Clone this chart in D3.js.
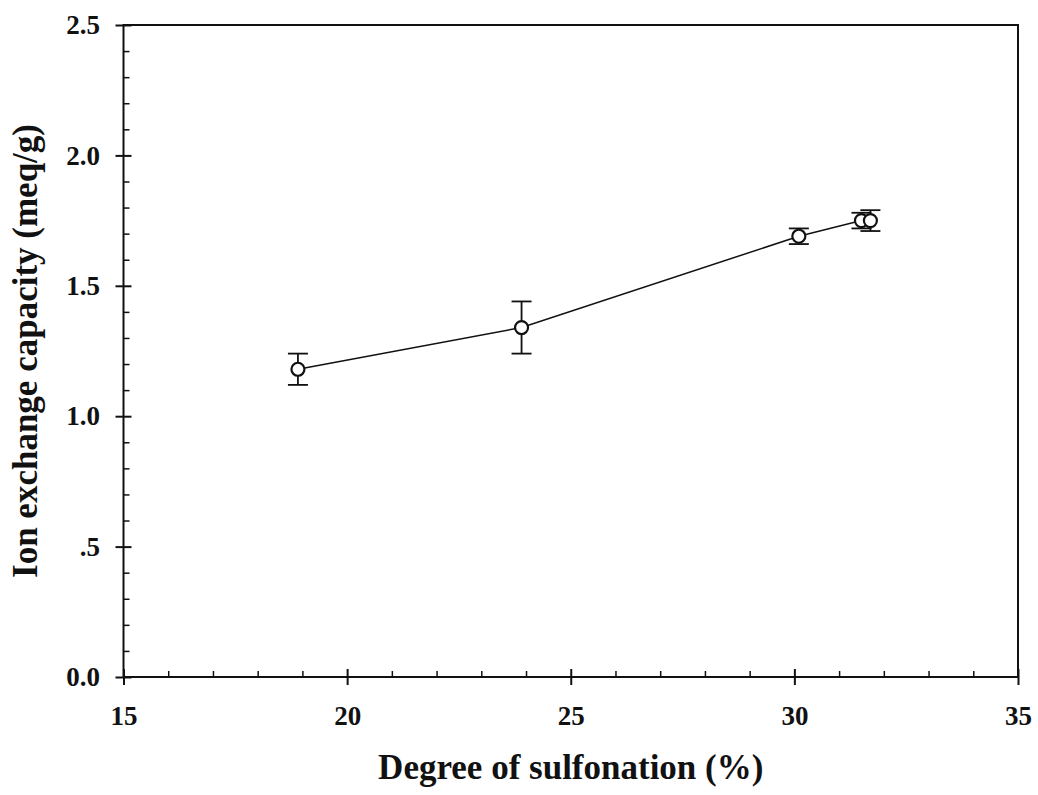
<!DOCTYPE html>
<html>
<head>
<meta charset="utf-8">
<script src="https://cdn.jsdelivr.net/npm/d3@7"></script>
<style>
  html, body { margin: 0; padding: 0; background: #fff; }
  svg { display: block; }
  text { font-family: "Liberation Serif", "Times New Roman", serif; font-weight: bold; fill: #111; }
</style>
</head>
<body>
<svg id="chart" width="1038" height="795"></svg>
<script>
// Degree of sulfonation (%) and measured ion exchange capacity (meq/g)
const sulfonation = [18.9, 23.9, 30.1, 31.5, 31.7];
const iec         = [1.18, 1.34, 1.69, 1.75, 1.75];
const iecError    = [0.06, 0.10, 0.03, 0.03, 0.04];

const xTicks = [15, 20, 25, 30, 35];
const xTickLabels = ["15", "20", "25", "30", "35"];
const yTicks = [0, 0.5, 1.0, 1.5, 2.0, 2.5];
const yTickLabels = ["0.0", ".5", "1.0", "1.5", "2.0", "2.5"];

const xTitle = "Degree of sulfonation (%)";
const yTitle = "Ion exchange capacity (meq/g)";

const margin = { left: 123.5, right: 1018, top: 25, bottom: 677 };

const svg = d3.select("#chart");

const x = d3.scaleLinear().domain([15, 35]).range([margin.left, margin.right]);
const y = d3.scaleLinear().domain([0, 2.5]).range([margin.bottom, margin.top]);

const ink = "#111";

// frame
svg.append("rect")
  .attr("x", margin.left).attr("y", margin.top)
  .attr("width", margin.right - margin.left)
  .attr("height", margin.bottom - margin.top)
  .attr("fill", "none").attr("stroke", ink).attr("stroke-width", 2);

// minor ticks (inside)
const xMinor = d3.range(15, 35.001, 1).filter(v => v % 5 !== 0);
const yMinor = d3.range(0, 2.5001, 0.1).map(v => +v.toFixed(1)).filter(v => Math.abs(v * 2 - Math.round(v * 2)) > 1e-6);

const bottomMinor = d3.axisBottom(x).tickValues(xMinor).tickSize(-6).tickFormat("");
const leftMinor = d3.axisLeft(y).tickValues(yMinor).tickSize(-6).tickFormat("");

svg.append("g").attr("transform", `translate(0,${margin.bottom})`).call(bottomMinor)
  .call(g => g.select(".domain").remove())
  .call(g => g.selectAll("line").attr("stroke", ink).attr("stroke-width", 1.5));
svg.append("g").attr("transform", `translate(${margin.left},0)`).call(leftMinor)
  .call(g => g.select(".domain").remove())
  .call(g => g.selectAll("line").attr("stroke", ink).attr("stroke-width", 1.5));

// major ticks (crossing the axis) with labels
const bottomMajor = d3.axisBottom(x).tickValues(xTicks).tickSize(8)
  .tickFormat((d, i) => xTickLabels[i]).tickPadding(21);
const leftMajor = d3.axisLeft(y).tickValues(yTicks).tickSize(8)
  .tickFormat((d, i) => yTickLabels[i]).tickPadding(15.5);

const gx = svg.append("g").attr("transform", `translate(0,${margin.bottom})`).call(bottomMajor);
gx.select(".domain").remove();
gx.selectAll("line").attr("y1", -8).attr("stroke", ink).attr("stroke-width", 2);
gx.selectAll("text").attr("font-family", null).style("font-size", "27px").style("fill", ink);

const gy = svg.append("g").attr("transform", `translate(${margin.left},0)`).call(leftMajor);
gy.select(".domain").remove();
gy.selectAll("line").attr("x1", 8).attr("stroke", ink).attr("stroke-width", 2);
gy.selectAll("text").attr("font-family", null).style("font-size", "27px").style("fill", ink);

// axis titles
svg.append("text")
  .attr("x", (margin.left + margin.right) / 2).attr("y", 779)
  .attr("text-anchor", "middle").style("font-size", "35px")
  .text(xTitle);

svg.append("text")
  .attr("transform", `translate(37,351) rotate(-90)`)
  .attr("text-anchor", "middle").style("font-size", "35px")
  .text(yTitle);

// connecting line
const pts = sulfonation.map((s, i) => ({ s, v: iec[i], e: iecError[i] }));
svg.append("path")
  .datum(pts)
  .attr("d", d3.line().x(d => x(d.s)).y(d => y(d.v)))
  .attr("fill", "none").attr("stroke", ink).attr("stroke-width", 1.5);

// error bars
const eb = svg.append("g").attr("stroke", ink).attr("stroke-width", 1.8);
eb.selectAll("line.v").data(pts).join("line")
  .attr("x1", d => x(d.s)).attr("x2", d => x(d.s))
  .attr("y1", d => y(d.v - d.e)).attr("y2", d => y(d.v + d.e));
eb.selectAll("line.top").data(pts).join("line")
  .attr("x1", d => x(d.s) - 10).attr("x2", d => x(d.s) + 10)
  .attr("y1", d => y(d.v + d.e)).attr("y2", d => y(d.v + d.e));
eb.selectAll("line.bot").data(pts).join("line")
  .attr("x1", d => x(d.s) - 10).attr("x2", d => x(d.s) + 10)
  .attr("y1", d => y(d.v - d.e)).attr("y2", d => y(d.v - d.e));

// open circle markers
svg.append("g").selectAll("circle").data(pts).join("circle")
  .attr("cx", d => x(d.s)).attr("cy", d => y(d.v)).attr("r", 6.5)
  .attr("fill", "#fff").attr("stroke", ink).attr("stroke-width", 2.2);
</script>
</body>
</html>
